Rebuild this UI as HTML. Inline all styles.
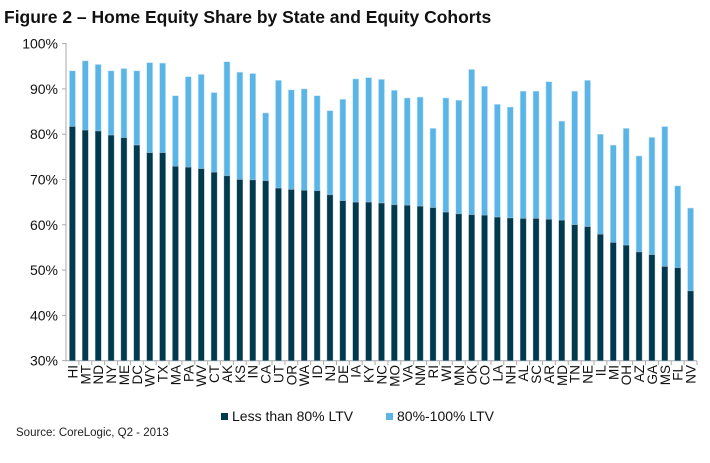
<!DOCTYPE html>
<html><head><meta charset="utf-8"><style>
body{margin:0;background:#fff;}
svg{display:block;font-family:"Liberation Sans",Arial,sans-serif;}
</style></head><body>
<svg id="c" width="710" height="463" xmlns="http://www.w3.org/2000/svg">
<text x="4" y="23" font-size="17.5" font-weight="bold" fill="#111">Figure 2 – Home Equity Share by State and Equity Cohorts</text>
<g id="ax"></g>
<rect x="221" y="413" width="7" height="7" fill="#003a4f"/>
<text x="232" y="421" font-size="14" fill="#111">Less than 80% LTV</text>
<rect x="386" y="413" width="7" height="7" fill="#5ab4e6"/>
<text x="397" y="421" font-size="14" fill="#111">80%-100% LTV</text>
<text x="16" y="436" font-size="11.5" fill="#222">Source: CoreLogic, Q2 - 2013</text>
</svg>
<script>
var d=[["HI",94,81.7],["MT",96.2,80.9],["ND",95.4,80.7],["NY",94,79.8],["ME",94.5,79.2],["DC",94,77.6],["WY",95.8,75.9],["TX",95.7,75.9],["MA",88.5,72.9],["PA",92.7,72.7],["WV",93.2,72.4],["CT",89.2,71.6],["AK",96,70.8],["KS",93.7,70.0],["IN",93.4,69.9],["CA",84.7,69.7],["UT",91.9,68.1],["OR",89.8,67.8],["WA",90.0,67.6],["ID",88.5,67.5],["NJ",85.2,66.6],["DE",87.7,65.3],["IA",92.2,65.0],["KY",92.5,65.0],["NC",92.1,64.8],["MO",89.7,64.4],["VA",88.0,64.3],["NM",88.2,64.1],["RI",81.3,63.8],["WI",88.0,62.8],["MN",87.5,62.4],["OK",94.3,62.2],["CO",90.6,62.1],["LA",86.6,61.7],["NH",86.0,61.5],["AL",89.5,61.4],["SC",89.5,61.4],["AR",91.6,61.2],["MD",82.9,61.0],["TN",89.5,60.0],["NE",91.9,59.6],["IL",80.0,57.9],["MI",77.6,56.1],["OH",81.3,55.5],["AZ",75.2,54.0],["GA",79.3,53.4],["MS",81.7,50.8],["FL",68.6,50.5],["NV",63.7,45.4]];
var y=v=>360.7-(v-30)*4.53, x0=66, x1=697, w=(x1-x0)/d.length, s='';
s+='<line x1="66" y1="43" x2="66" y2="361" stroke="#aaa"/>';
for(var t=30;t<=100;t+=10){var yy=y(t);s+='<line x1="62" y1="'+yy+'" x2="66" y2="'+yy+'" stroke="#aaa"/><text x="58" y="'+(yy+5)+'" font-size="14" text-anchor="end" fill="#111">'+t+'%</text>';}
s+='<line x1="66" y1="360.7" x2="697" y2="360.7" stroke="#aaa"/>';
d.forEach(function(r,i){var c=x0+w*(i+0.5),bw=6;
s+='<rect x="'+(c-bw/2)+'" y="'+y(r[1])+'" width="'+bw+'" height="'+(y(r[2])-y(r[1]))+'" fill="#5ab4e6" stroke="#c5e6f8" stroke-width="0.6"/>';
s+='<rect x="'+(c-bw/2)+'" y="'+y(r[2])+'" width="'+bw+'" height="'+(360.7-y(r[2]))+'" fill="#003a4f" stroke="#9ab" stroke-width="0.4"/>';
var tx=x0+w*(i+1);s+='<line x1="'+tx+'" y1="361" x2="'+tx+'" y2="365" stroke="#aaa"/>';
s+='<text transform="translate('+(c+5)+',365) rotate(-90)" font-size="13.5" text-anchor="end" fill="#111">'+r[0]+'</text>';});
document.getElementById('ax').innerHTML=s;
</script>
</body></html>
